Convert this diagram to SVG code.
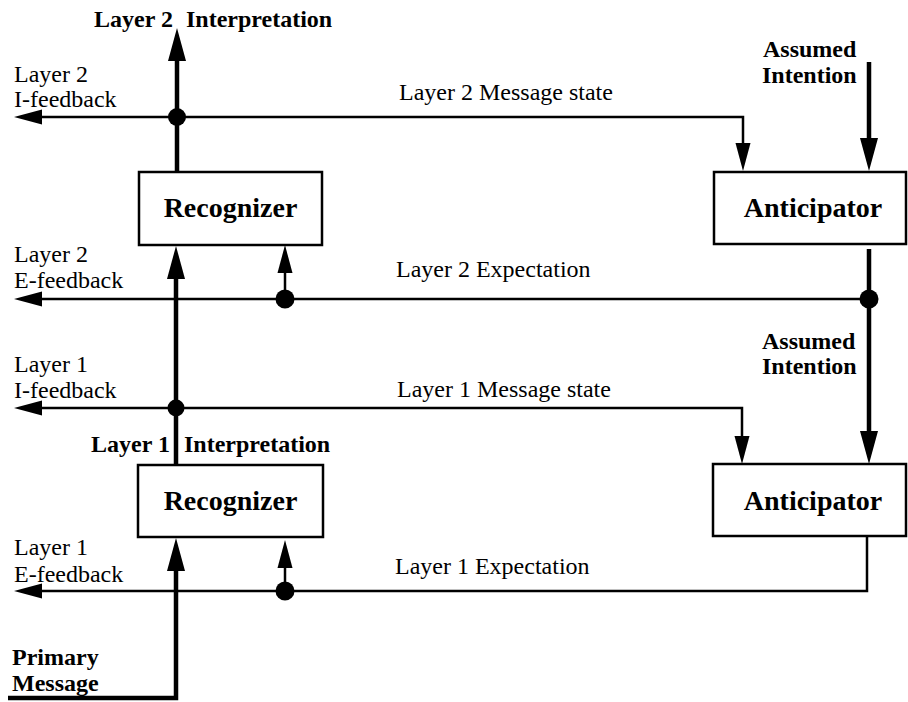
<svg xmlns="http://www.w3.org/2000/svg" width="908" height="702" viewBox="0 0 908 702">
  <style>
    .box { fill: #ffffff; stroke: #000000; stroke-width: 2.5; }
    .name { font-family: "Liberation Serif", "Times New Roman", serif; font-weight: bold; font-size: 28px; text-anchor: middle; fill: #000000; }
    .lbl { font-family: "Liberation Serif", "Times New Roman", serif; font-size: 24px; fill: #000000; }
    .blbl { font-family: "Liberation Serif", "Times New Roman", serif; font-weight: bold; font-size: 24px; fill: #000000; }
    .thin { fill: none; stroke: #000000; stroke-width: 2.5; }
    .thick { fill: none; stroke: #000000; stroke-width: 4.5; }
    .dot { fill: #000000; }
  </style>
  <defs>
    <!-- arrowheads drawn from their base (line end) to the tip -->
    <marker id="arrThin" markerUnits="userSpaceOnUse" viewBox="0 -8 30 16" refX="0" refY="0" markerWidth="30" markerHeight="16" orient="auto-start-reverse" overflow="visible">
      <path d="M0,-7.5 L28,0 L0,7.5 z" fill="#000000"/>
    </marker>
    <marker id="arrThick" markerUnits="userSpaceOnUse" viewBox="0 -10 34 20" refX="0" refY="0" markerWidth="34" markerHeight="20" orient="auto-start-reverse" overflow="visible">
      <path d="M0,-9 L33,0 L0,9 z" fill="#000000"/>
    </marker>
  </defs>

  <!-- connectors -->
  <g id="connectors">
    <!-- layer 2 interpretation output -->
    <line class="thick" x1="177" y1="172" x2="177" y2="61" marker-end="url(#arrThick)"/>
    <!-- layer 2 message state / I-feedback -->
    <path class="thin" d="M743,143 V117 H42" marker-start="url(#arrThin)" marker-end="url(#arrThin)"/>
    <circle class="dot" cx="177" cy="117" r="9"/>
    <!-- assumed intention into upper anticipator -->
    <line class="thick" x1="869" y1="62" x2="869" y2="138" marker-end="url(#arrThick)"/>
    <!-- upper anticipator output: assumed intention down to lower anticipator -->
    <line class="thick" x1="869" y1="249" x2="869" y2="431" marker-end="url(#arrThick)"/>
    <!-- layer 2 expectation / E-feedback -->
    <line class="thin" x1="869" y1="299" x2="42" y2="299" marker-end="url(#arrThin)"/>
    <circle class="dot" cx="869" cy="299" r="9.5"/>
    <line class="thin" x1="285" y1="299" x2="285" y2="273" marker-end="url(#arrThin)"/>
    <circle class="dot" cx="285" cy="299" r="9.5"/>
    <!-- layer 1 interpretation into upper recognizer -->
    <line class="thick" x1="176" y1="465" x2="176" y2="279" marker-end="url(#arrThick)"/>
    <!-- layer 1 message state / I-feedback -->
    <path class="thin" d="M742,436 V408 H42" marker-start="url(#arrThin)" marker-end="url(#arrThin)"/>
    <circle class="dot" cx="176" cy="408" r="8.5"/>
    <!-- layer 1 expectation / E-feedback -->
    <path class="thin" d="M867,536 V591 H42" marker-end="url(#arrThin)"/>
    <line class="thin" x1="285" y1="591" x2="285" y2="568" marker-end="url(#arrThin)"/>
    <circle class="dot" cx="285" cy="591" r="9.5"/>
    <!-- primary message into lower recognizer -->
    <path class="thick" d="M8,698 H176 V571" marker-end="url(#arrThick)"/>
  </g>

  <!-- nodes -->
  <g id="recognizer2">
    <rect class="box" x="139" y="172" width="183" height="73"/>
    <text class="name" x="230.5" y="217">Recognizer</text>
  </g>
  <g id="anticipator2">
    <rect class="box" x="714" y="172" width="192" height="72"/>
    <text class="name" x="813" y="217">Anticipator</text>
  </g>
  <g id="recognizer1">
    <rect class="box" x="138" y="465" width="185" height="72"/>
    <text class="name" x="230.5" y="510">Recognizer</text>
  </g>
  <g id="anticipator1">
    <rect class="box" x="713" y="464" width="193" height="72"/>
    <text class="name" x="813" y="510">Anticipator</text>
  </g>

  <!-- labels -->
  <g id="labels">
    <text class="blbl" x="94" y="27">Layer 2</text>
    <text class="blbl" x="186" y="27">Interpretation</text>
    <text class="lbl" x="14" y="82">Layer 2</text>
    <text class="lbl" x="14" y="107">I-feedback</text>
    <text class="lbl" x="399" y="100">Layer 2 Message state</text>
    <text class="blbl" x="763" y="57">Assumed</text>
    <text class="blbl" x="762" y="83">Intention</text>

    <text class="lbl" x="14" y="262">Layer 2</text>
    <text class="lbl" x="14" y="288">E-feedback</text>
    <text class="lbl" x="396" y="277">Layer 2 Expectation</text>
    <text class="blbl" x="762" y="349">Assumed</text>
    <text class="blbl" x="762" y="374">Intention</text>

    <text class="lbl" x="14" y="372">Layer 1</text>
    <text class="lbl" x="14" y="398">I-feedback</text>
    <text class="lbl" x="397" y="397">Layer 1 Message state</text>
    <text class="blbl" x="91" y="452">Layer 1</text>
    <text class="blbl" x="184" y="452">Interpretation</text>

    <text class="lbl" x="14" y="555">Layer 1</text>
    <text class="lbl" x="14" y="582">E-feedback</text>
    <text class="lbl" x="395" y="574">Layer 1 Expectation</text>
    <text class="blbl" x="12" y="665">Primary</text>
    <text class="blbl" x="12" y="691">Message</text>
  </g>
</svg>
